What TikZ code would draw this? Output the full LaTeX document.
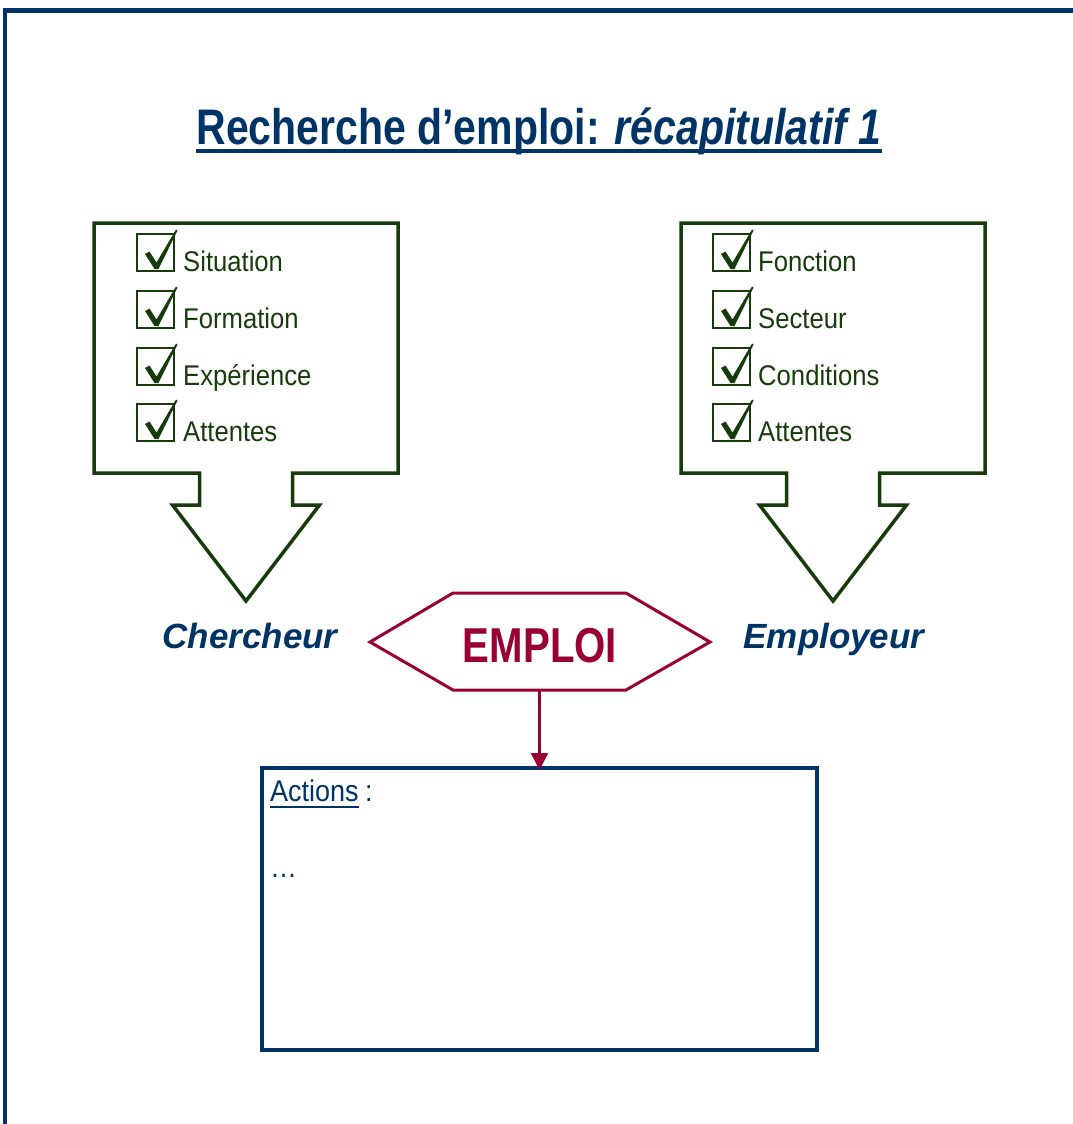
\documentclass[tikz,border=0pt]{standalone}
\usepackage{fontspec}
\setmainfont{Liberation Sans}
\newfontfamily\narrowfont[FakeStretch=0.82]{Liberation Sans}
\newfontfamily\itemfont[FakeStretch=0.9]{Liberation Sans}
\usetikzlibrary{arrows.meta}
\definecolor{navy}{RGB}{0,51,102}
\definecolor{leaf}{RGB}{22,60,12}
\definecolor{wine}{RGB}{153,0,51}
\tikzset{
  titletext/.style={font=\narrowfont\bfseries\fontsize{50}{60}\selectfont, text=navy, inner sep=0pt},
  itemtext/.style={font=\itemfont\fontsize{28.5}{32}\selectfont, text=leaf, inner sep=0pt, anchor=base west},
  roletext/.style={font=\bfseries\itshape\fontsize{35}{40}\selectfont, text=navy, inner sep=0pt, anchor=base},
  jobtext/.style={font=\narrowfont\bfseries\fontsize{49}{55}\selectfont, text=wine, inner sep=0pt, anchor=base},
  callout/.style={draw=leaf, line width=3.5pt, line join=miter},
  actionbox/.style={draw=navy, line width=3.5pt, minimum width=555pt, minimum height=282pt, inner sep=0pt, outer sep=0pt, anchor=north west},
  bodytext/.style={font=\itemfont\fontsize{30}{34}\selectfont, text=navy, inner sep=0pt, anchor=base west},
  chkbox/.pic={
    \draw[leaf, line width=2.5pt] (0,0) rectangle (37,37);
    \fill[leaf] (8,20) -- (12.5,17.5) -- (19.5,28.5) -- (39,-4.5) -- (40.5,-3.5) -- (21.5,35) -- (17.5,35) -- cycle;
  }
}
\begin{document}
\begin{tikzpicture}[x=1pt,y=-1pt]
\useasboundingbox (0,0) rectangle (1073,1124);

% page frame (top and left edges)
\fill[navy] (3,8) rectangle (1073,13);
\fill[navy] (3,8) rectangle (6.5,1124);

% title
\node[titletext, anchor=base] (title) at (539,144) {Recherche d’emploi: \textit{récapitulatif 1}};
\draw[navy, line width=3.5pt] ([yshift=-7pt]title.base west) -- ([yshift=-7pt]title.base east);

% the two downward callouts
\foreach \dx in {0,587}{
  \begin{scope}[xshift=\dx pt]
    \draw[callout] (94,223) -- (398,223) -- (398,473) -- (292.5,473) -- (292.5,505)
      -- (319.5,505) -- (246,601) -- (172.5,505) -- (199.5,505) -- (199.5,473)
      -- (94,473) -- cycle;
  \end{scope}
}

% job-seeker checklist
\pic at (137,234) {chkbox};
\pic at (137,291) {chkbox};
\pic at (137,348) {chkbox};
\pic at (137,404) {chkbox};
\node[itemtext] (s1) at (183,271) {Situation};
\node[itemtext] (s2) at (183,328) {Formation};
\node[itemtext] (s3) at (183,385) {Expérience};
\node[itemtext] (s4) at (183,441) {Attentes};

% employer checklist
\pic at (713,234) {chkbox};
\pic at (713,291) {chkbox};
\pic at (713,348) {chkbox};
\pic at (713,404) {chkbox};
\node[itemtext] (e1) at (758,271) {Fonction};
\node[itemtext] (e2) at (758,328) {Secteur};
\node[itemtext] (e3) at (758,385) {Conditions};
\node[itemtext] (e4) at (758,441) {Attentes};

% roles
\node[roletext] (seeker) at (250,648) {Chercheur};
\node[roletext] (employer) at (834,648) {Employeur};

% job hexagon
\draw[wine, line width=3pt, line join=miter] (370,642) -- (453,593) -- (626,593)
  -- (710,642) -- (626,690) -- (453,690) -- cycle;
\node[jobtext] (job) at (540,662) {EMPLOI};
\coordinate (hexbot) at (539.5,690);

% actions box
\node[actionbox] (actions) at (262,768) {};
\node[bodytext] (acttitle) at (270,801) {Actions};
\draw[navy, line width=2.5pt] ([yshift=-6pt]acttitle.base west) -- ([yshift=-6pt]acttitle.base east);
\node[bodytext, anchor=base west] (colon) at ([xshift=6pt]acttitle.base east) {:};
\node[bodytext] (dots) at (270,877) {…};

\draw[wine, line width=2.5pt, -{Triangle[length=17pt,width=17pt]}] (hexbot) -- ([yshift=-2pt]actions.north);
\end{tikzpicture}
\end{document}
